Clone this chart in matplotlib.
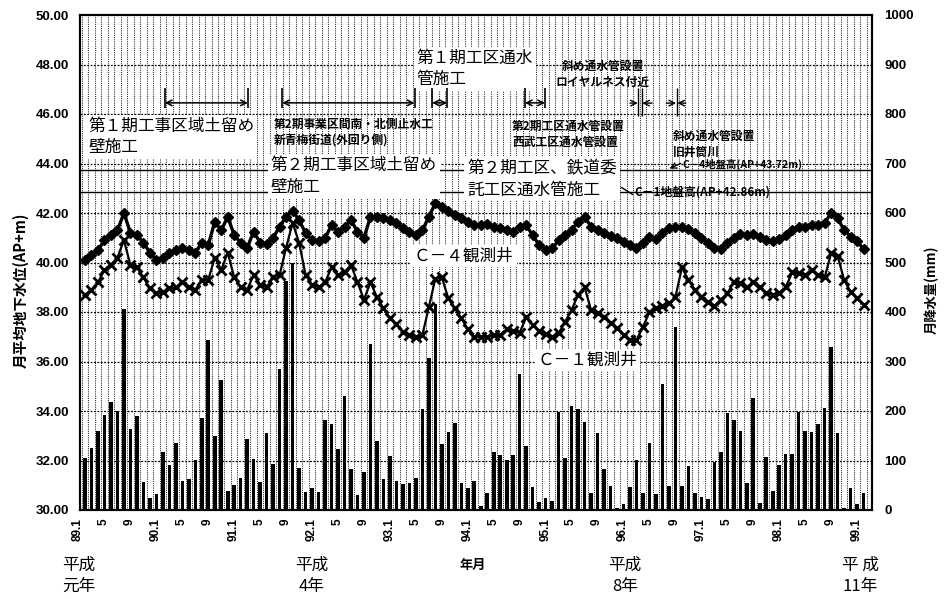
import numpy as np
import matplotlib
matplotlib.use('Agg')
import matplotlib.pyplot as plt
from matplotlib.transforms import ScaledTranslation

plt.rcParams['font.family'] = ['Liberation Sans', 'Noto Sans CJK JP']
JP = ['Noto Sans CJK JP', 'DejaVu Sans']

# monthly data, 89.1 (H1) ... 99.1 (H11)
rain = [105, 125, 160, 192, 218, 200, 407, 163, 190, 57, 24, 32,
        118, 91, 135, 59, 62, 101, 185, 343, 150, 263, 39, 50,
        65, 143, 103, 57, 155, 92, 285, 463, 498, 84, 37, 44,
        37, 182, 174, 123, 231, 82, 30, 77, 335, 140, 62, 109,
        59, 53, 54, 64, 204, 308, 417, 133, 158, 176, 55, 44,
        59, 8, 35, 118, 111, 101, 111, 275, 129, 46, 17, 24,
        18, 197, 106, 211, 204, 178, 35, 155, 82, 49, 5, 12,
        46, 101, 34, 135, 32, 255, 48, 370, 48, 88, 35, 27,
        22, 96, 118, 195, 182, 160, 55, 227, 15, 108, 38, 91,
        113, 113, 197, 160, 157, 173, 207, 330, 155, 5, 44, 12,
        35]

c4 = [40.10, 40.30, 40.50, 40.90, 41.10, 41.30, 42.00, 41.20, 41.10, 40.80, 40.40, 40.10,
      40.20, 40.40, 40.50, 40.60, 40.50, 40.40, 40.80, 40.70, 41.65, 41.30, 41.85, 41.10,
      40.80, 40.60, 41.25, 40.80, 40.75, 41.00, 41.45, 41.85, 42.10, 41.70, 41.20, 40.90,
      40.85, 41.00, 41.50, 41.25, 41.45, 41.70, 41.25, 41.00, 41.85, 41.85, 41.80, 41.70,
      41.60, 41.40, 41.25, 41.10, 41.30, 41.85, 42.40, 42.25, 42.10, 41.90, 41.80, 41.65,
      41.50, 41.50, 41.55, 41.45, 41.40, 41.30, 41.25, 41.45, 41.50, 41.10, 40.70, 40.50,
      40.57, 40.90, 41.10, 41.30, 41.65, 41.85, 41.45, 41.30, 41.20, 41.07, 40.98, 40.84,
      40.70, 40.60, 40.80, 41.04, 40.93, 41.18, 41.38, 41.45, 41.45, 41.35, 41.20, 41.00,
      40.80, 40.60, 40.55, 40.80, 41.00, 41.15, 41.10, 41.15, 41.05, 40.90, 40.85, 40.95,
      41.10, 41.30, 41.45, 41.45, 41.50, 41.50, 41.60, 42.00, 41.80, 41.30, 41.05, 40.85,
      40.55]

c1 = [38.70, 38.90, 39.20, 39.70, 39.90, 40.20, 40.90, 39.90, 39.80, 39.40, 38.95, 38.75,
      38.80, 38.95, 39.00, 39.20, 39.00, 38.90, 39.30, 39.30, 40.20, 39.70, 40.40, 39.40,
      39.00, 38.90, 39.50, 39.10, 39.00, 39.40, 39.50, 40.60, 41.60, 40.80, 39.50, 39.10,
      39.00, 39.20, 39.80, 39.50, 39.60, 39.90, 39.20, 38.50, 39.20, 38.60, 38.15, 37.75,
      37.50, 37.20, 37.07, 37.00, 37.07, 38.20, 39.35, 39.40, 38.55, 38.15, 37.75, 37.30,
      37.00, 37.00, 37.00, 37.07, 37.07, 37.30, 37.25, 37.17, 37.78, 37.47, 37.25, 37.10,
      37.00, 37.14, 37.60, 38.08, 38.70, 39.00, 38.08, 37.95, 37.81, 37.54, 37.34, 37.07,
      36.87, 36.87, 37.40, 38.00, 38.15, 38.24, 38.35, 38.60, 39.80, 39.30, 38.90, 38.60,
      38.40, 38.24, 38.50, 38.75, 39.20, 39.16, 39.00, 39.20, 39.00, 38.75, 38.70, 38.78,
      39.00, 39.60, 39.56, 39.50, 39.70, 39.50, 39.40, 40.37, 40.26, 39.30, 38.82, 38.55,
      38.28]

ground_c4 = 43.72
ground_c1 = 42.86

xtick_labels = ['89.1', '5', '9', '90.1', '5', '9', '91.1', '5', '9', '92.1', '5', '9',
                '93.1', '5', '9', '94.1', '5', '9', '95.1', '5', '9', '96.1', '5', '9',
                '97.1', '5', '9', '98.1', '5', '9', '99.1']
left_ticks = [30, 32, 34, 36, 38, 40, 42, 44, 46, 48, 50]
right_ticks = [0, 100, 200, 300, 400, 500, 600, 700, 800, 900, 1000]

months = np.arange(len(rain))

#--------------------------------------------------------------------------#
fig = plt.figure(figsize=(9.47, 5.99), dpi=100, facecolor='white')
ax = fig.add_axes([80/947, 89/599, 792/947, 495/599])
ax2 = ax.twinx()
ax.set_zorder(ax2.get_zorder() + 1)
ax.patch.set_visible(False)

# rain bars (right axis)
ax2.bar(months, rain, width=0.55, color='black', zorder=2)
ax2.set_ylim(0, 1000)
ax2.set_yticks(right_ticks)
ax2.set_yticklabels([str(v) for v in right_ticks], fontweight='bold', fontsize=9.5)
ax2.tick_params(axis='y', length=0, pad=9)

# grid (dense monthly dotted lines like the scanned original)
ax.vlines(np.arange(-0.5, len(rain) + 0.5), 0, 1, transform=ax.get_xaxis_transform(),
          colors='#2a2a2a', linewidth=0.75, linestyles=(0, (1, 1.1)), zorder=1)
for v in left_ticks[1:-1]:
    ax.axhline(v, color='black', lw=0.9, ls=(0, (1.5, 1.2)), zorder=1)

# ground levels
ax.axhline(ground_c4, color='black', lw=1.0, zorder=2)
ax.axhline(ground_c1, color='black', lw=1.0, zorder=2)

# groundwater levels
ax.plot(months, c4, color='black', lw=2.4, marker='D', ms=5.5, zorder=4)
ax.plot(months, c1, color='black', lw=1.6, marker='x', ms=7.5, mew=2.0, zorder=4)

ax.set_xlim(-0.77, 121.3)
ax.set_ylim(30, 50)
ax.set_yticks(left_ticks)
ax.set_yticklabels(['%.2f' % v for v in left_ticks], fontweight='bold', fontsize=9.5)
ax.set_xticks(months[::4])
ax.set_xticklabels(xtick_labels, rotation=90, fontweight='bold', fontsize=8.5)
ax.tick_params(axis='both', length=0)
ax.tick_params(axis='y', pad=8)
ax.tick_params(axis='x', pad=6)
shift = ScaledTranslation(-7/100, 0, fig.dpi_scale_trans)
for lab in ax.get_xticklabels():
    lab.set_transform(lab.get_transform() + shift)

for sp in ax.spines.values():
    sp.set_linewidth(1.5)
for sp in ax2.spines.values():
    sp.set_linewidth(1.5)

# construction periods
box = dict(facecolor='white', edgecolor='none', pad=2)
big = dict(family=JP, fontsize=12, ha='left', va='top', linespacing=1.35, zorder=6, bbox=box)
ax.text(0.5, 45.85, '第１期工事区域土留め\n壁施工', **big)
ax.text(28.6, 44.25, '第２期工事区域土留め\n壁施工', **big)
ax.text(51.1, 48.6, '第１期工区通水\n管施工', **big)
ax.text(58.9, 44.15, '第２期工区、鉄道委\n託工区通水管施工', **big)
ax.text(50.7, 40.26, 'Ｃ－４観測井', family=JP, fontsize=12, va='center', zorder=6, bbox=box)
ax.text(69.8, 36.06, 'Ｃ－１観測井', family=JP, fontsize=12, va='center', zorder=6, bbox=box)

small = dict(family=JP, fontsize=8.5, fontweight='bold', va='top', linespacing=1.3, zorder=6)
ax.text(29.1, 45.85, '第2期事業区間南・北側止水工\n新青梅街道(外回り側)', ha='left', **small)
ax.text(65.8, 45.75, '第2期工区通水管設置\n西武工区通水管設置', ha='left', **small)
ax.text(79.8, 48.2, '斜め通水管設置\nロイヤルネス付近', ha='center', multialignment='center', **small)
ax.text(90.6, 45.35, '斜め通水管設置\n旧井筒川', ha='left', **small)
ax.text(92.1, 43.97, 'C－4地盤高(AP+43.72m)', family=JP, fontsize=7.5, fontweight='bold',
        va='center', zorder=6)
ax.text(84.7, 42.86, 'C－1地盤高(AP+42.86m)', family=JP, fontsize=8.5, fontweight='bold',
        va='center', zorder=6)
ax.annotate('', xy=(89.7, 43.75), xytext=(92.2, 44.05),
            arrowprops=dict(arrowstyle='->', lw=1.0), zorder=6)
ax.plot([82.7, 84.4], [43.03, 42.75], color='black', lw=1.0, zorder=6)

# period arrows  (start, end) in months
spans = [(12.3, 25.1), (30.4, 50.8), (53.5, 55.8), (67.8, 70.9)]
for a, b in spans:
    ax.vlines([a, b], 46.25, 47.05, colors='black', lw=1.2, zorder=6)
    ax.annotate('', xy=(b, 46.45), xytext=(a, 46.45),
                arrowprops=dict(arrowstyle='<->', lw=1.1, shrinkA=0, shrinkB=0), zorder=6)
# diagonal pipe marks
ax.vlines([85.3, 85.8, 91.2], 45.9, 47.05, colors='black', lw=1.0, zorder=6)
for a, b in [(84.0, 85.2), (87.4, 85.9), (89.6, 91.1), (92.6, 91.3)]:
    ax.annotate('', xy=(b, 46.44), xytext=(a, 46.44),
                arrowprops=dict(arrowstyle='->', lw=1.0, shrinkA=0, shrinkB=0), zorder=6)

# axis titles
fig.text(21/947, 1 - 290/599, '月平均地下水位(AP+m)', rotation=90, ha='center', va='center',
         family=JP, fontsize=10.5, fontweight='bold')
fig.text(932/947, 1 - 290/599, '月降水量(mm)', rotation=90, ha='center', va='center',
         family=JP, fontsize=9.5, fontweight='bold')
fig.text(473/947, 1 - 565/599, '年月', ha='center', va='center', family=JP,
         fontsize=9.5, fontweight='bold')

era = dict(family=JP, fontsize=12, va='top', linespacing=1.3)
fig.text(62/947, 1 - 557/599, '平成\n元年', ha='left', **era)
fig.text(312/947, 1 - 557/599, '平成\n4年', ha='center', multialignment='center', **era)
fig.text(625/947, 1 - 557/599, '平成\n8年', ha='center', multialignment='center', **era)
fig.text(860/947, 1 - 557/599, '平 成\n11年', ha='center', multialignment='center', **era)

fig.savefig('out.png', dpi=100, facecolor='white')
